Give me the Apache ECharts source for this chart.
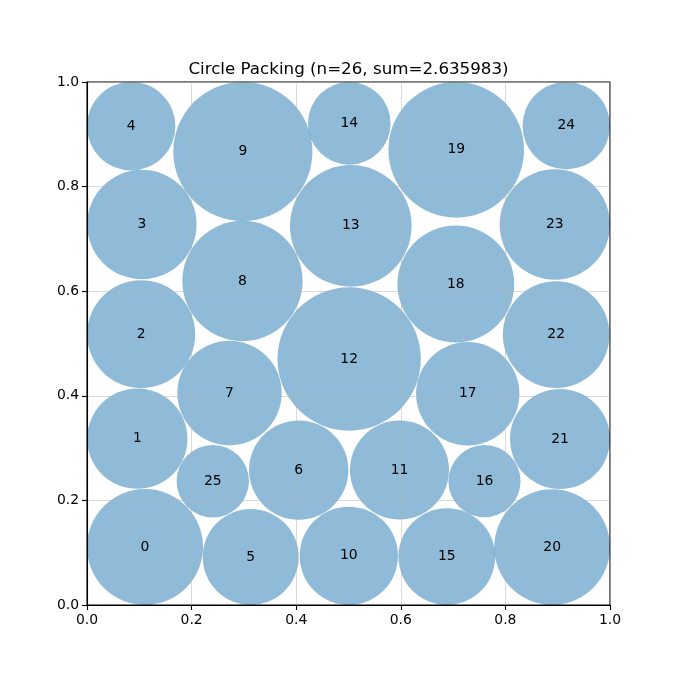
<!DOCTYPE html>
<html>
<head>
<meta charset="utf-8">
<script src="https://cdn.jsdelivr.net/npm/echarts@6/dist/echarts.min.js"></script>
<style>html,body{margin:0;padding:0;background:#fff}#c{width:680px;height:680px}</style>
</head>
<body>
<div id="c"></div>
<script>
const titleText = 'Circle Packing (n=26, sum=2.635983)';
const ids   = [0, 1, 2, 3, 4, 5, 6, 7, 8, 9, 10, 11, 12, 13, 14, 15, 16, 17, 18, 19, 20, 21, 22, 23, 24, 25];
const cx    = [0.1109, 0.0962, 0.1036, 0.1050, 0.0845, 0.3130, 0.4048, 0.2725, 0.2973, 0.2980, 0.5006, 0.5975, 0.5013, 0.5044, 0.5015, 0.6880, 0.7600, 0.7280, 0.7052, 0.7060, 0.8894, 0.9044, 0.8970, 0.8945, 0.9164, 0.2405];
const cy    = [0.1109, 0.3180, 0.5178, 0.7275, 0.9155, 0.0918, 0.2580, 0.4054, 0.6195, 0.8670, 0.0940, 0.2580, 0.4704, 0.7249, 0.9210, 0.0925, 0.2367, 0.4040, 0.6138, 0.8703, 0.1106, 0.3174, 0.5170, 0.7275, 0.9164, 0.2367];
const radii = [0.1109, 0.0959, 0.1033, 0.1046, 0.0845, 0.0918, 0.0950, 0.0998, 0.1150, 0.1330, 0.0940, 0.0947, 0.1370, 0.1163, 0.0790, 0.0925, 0.0690, 0.0988, 0.1117, 0.1297, 0.1106, 0.0956, 0.1020, 0.1055, 0.0836, 0.0692];
const tickStep = 0.2;

const data = ids.map((id, i) => [id, cx[i], cy[i], radii[i]]);
const FONT = '"DejaVu Sans", sans-serif';

const chart = echarts.init(document.getElementById('c'), null, {renderer: 'canvas'});

function axisCommon() {
  return {
    type: 'value', min: 0, max: 1, interval: tickStep, z: 3,
    axisLine: {show: true, lineStyle: {color: '#000', width: 1.1}},
    axisTick: {show: true, inside: false, length: 5, lineStyle: {color: '#000', width: 1.1}},
    axisLabel: {color: '#000', fontSize: 13.9, fontFamily: FONT, margin: 8, formatter: v => v.toFixed(1)},
    splitLine: {show: true, lineStyle: {color: '#b0b0b0', width: 0.8, opacity: 0.6}}
  };
}

chart.setOption({
  animation: false,
  backgroundColor: '#fff',
  grid: {left: 87, right: 70, top: 82, bottom: 75, show: true, borderColor: '#000', borderWidth: 1.1, z: 3},
  xAxis: axisCommon(),
  yAxis: axisCommon(),
  graphic: [{
    type: 'text', x: 348.5, y: 70,
    style: {text: titleText, align: 'center', verticalAlign: 'middle', fill: '#000', font: '16.7px ' + FONT}
  }],
  series: [{
    type: 'custom', z: 1,
    data: data,
    encode: {x: 1, y: 2},
    renderItem: function (params, api) {
      const c = api.coord([api.value(1), api.value(2)]);
      const rp = api.size([api.value(3), 0])[0];
      return {type: 'circle', shape: {cx: c[0], cy: c[1], r: rp}, style: {fill: 'rgba(31,119,180,0.5)'}};
    }
  }, {
    type: 'custom', z: 5,
    data: data,
    encode: {x: 1, y: 2},
    renderItem: function (params, api) {
      const c = api.coord([api.value(1), api.value(2)]);
      return {type: 'text', x: c[0], y: c[1], style: {text: String(api.value(0)), align: 'center', verticalAlign: 'middle', fill: '#000', font: '13.9px ' + FONT}};
    }
  }]
});
</script>
</body>
</html>
